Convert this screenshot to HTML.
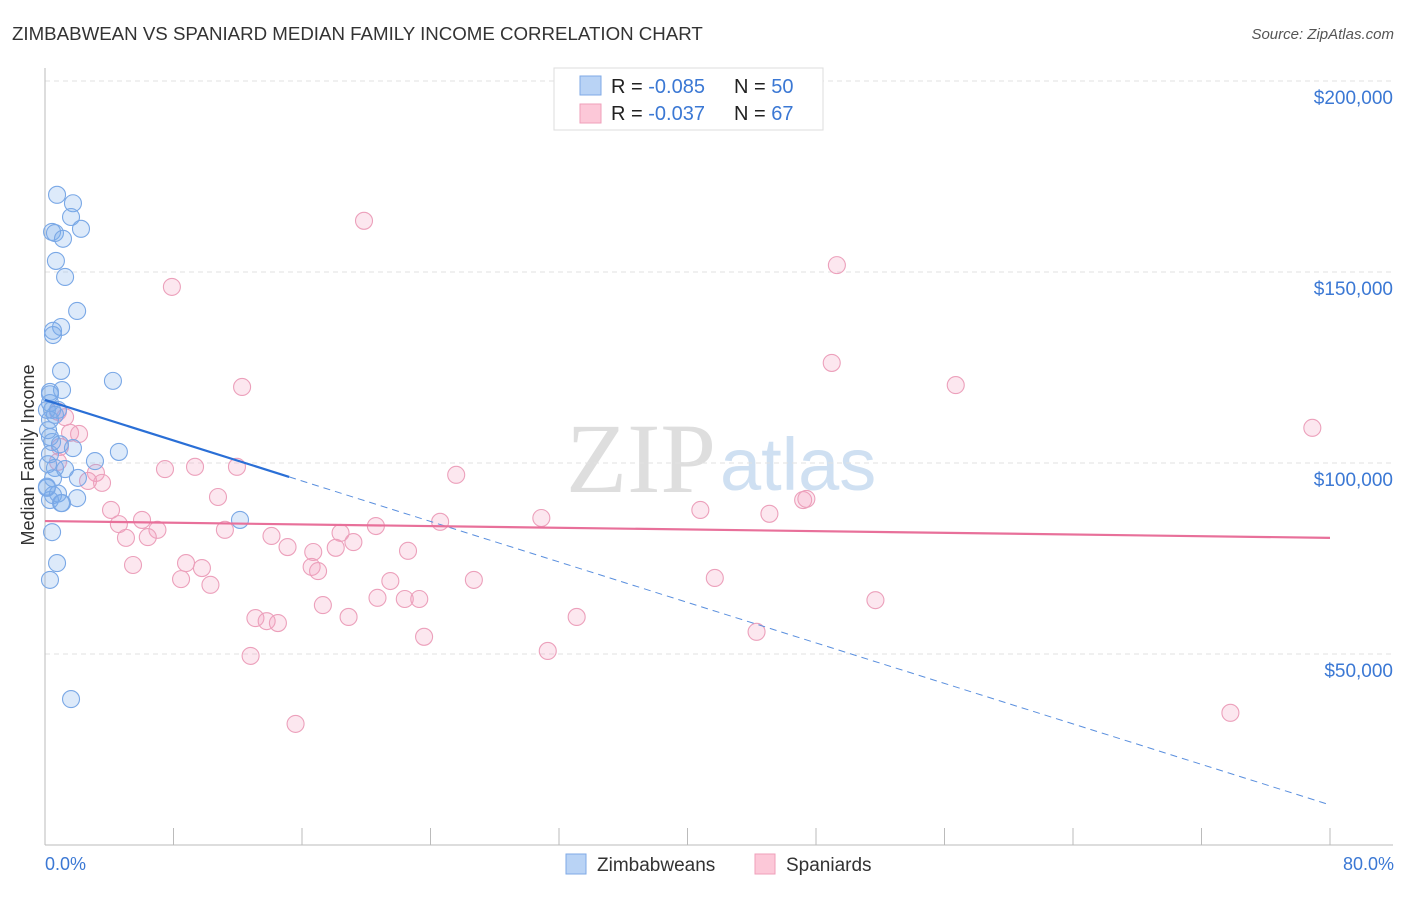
<!DOCTYPE html>
<html><head><meta charset="utf-8"><style>
body{margin:0;background:#fff;font-family:"Liberation Sans",sans-serif}
svg text{font-family:"Liberation Sans",sans-serif}
</style></head><body>
<svg id="c" width="1406" height="892" xmlns="http://www.w3.org/2000/svg">
<text x="12" y="40" font-size="18.7" fill="#333">ZIMBABWEAN VS SPANIARD MEDIAN FAMILY INCOME CORRELATION CHART</text>
<text x="1394" y="39" font-size="15" fill="#555" font-style="italic" text-anchor="end">Source: ZipAtlas.com</text>
<text x="716" y="492" font-size="100" fill="#dedede" text-anchor="end" style="font-family:'Liberation Serif',serif">ZIP</text>
<text x="720" y="490" font-size="74" fill="#cfe0f2">atlas</text>
<g id="grid"></g>
<g id="axes"></g>
<g id="pts"></g>
<g id="trend"></g>
<text transform="translate(34,455) rotate(-90)" font-size="18" fill="#333" text-anchor="middle">Median Family Income</text>
<text x="45" y="870" font-size="18" fill="#3b78d4">0.0%</text>
<text x="1394" y="870" font-size="18" fill="#3b78d4" text-anchor="end">80.0%</text>
<g>
<rect x="554" y="68" width="269" height="62" fill="#fff" stroke="#ddd"/>
<rect x="580" y="76" width="21" height="19" fill="#b9d3f5" stroke="#7faae6"/>
<rect x="580" y="104" width="21" height="19" fill="#fcc8d8" stroke="#ef9fba"/>
<text x="611" y="93" font-size="20" fill="#222">R = <tspan fill="#3b78d4">-0.085</tspan><tspan x="734">N = </tspan><tspan fill="#3b78d4">50</tspan></text>
<text x="611" y="120" font-size="20" fill="#222">R = <tspan fill="#3b78d4">-0.037</tspan><tspan x="734">N = </tspan><tspan fill="#3b78d4"> 67</tspan></text>
</g>
<g>
<rect x="566" y="854" width="20" height="20" fill="#b9d3f5" stroke="#7faae6"/>
<text x="597" y="871" font-size="19" fill="#333">Zimbabweans</text>
<rect x="755" y="854" width="20" height="20" fill="#fcc8d8" stroke="#ef9fba"/>
<text x="786" y="871" font-size="19" fill="#333">Spaniards</text>
</g>
</svg>
<script>
const yTicks=[50000,100000,150000,200000];
const yTickLabels=["$50,000","$100,000","$150,000","$200,000"];
const xTicks=[0,8,16,24,32,40,48,56,64,72,80];
const zimX=[0.75,1.74,1.62,0.44,0.62,1.12,2.24,0.68,1.25,2.0,1.0,0.5,0.5,4.23,1.0,1.06,0.31,0.31,0.44,0.81,0.31,0.31,0.44,1.74,4.6,3.11,0.62,2.05,0.12,0.5,0.31,2.0,1.0,12.14,0.44,0.75,0.31,1.62,0.19,0.62,0.93,0.31,1.25,0.19,0.81,0.5,0.12,1.06,0.31,0.12];
const zimY=[170200,168000,164400,160500,160200,158700,161300,152900,148700,139800,135600,134600,133500,121500,124100,119100,118600,115700,113900,113900,111300,106800,105500,103900,102900,100500,98700,96100,93500,91600,90300,90800,89500,85100,81900,73800,69400,38200,108600,112600,104900,102300,98400,99700,92000,96000,93800,89500,118000,113900];
const spaX=[19.86,49.3,7.9,48.98,56.7,12.27,78.9,0.81,1.25,1.56,2.12,0.93,0.81,3.17,7.47,9.34,11.95,25.6,3.55,2.68,10.77,47.2,47.4,4.11,40.8,45.1,30.9,6.04,4.6,24.6,20.6,7.0,11.2,5.04,6.4,14.1,18.4,19.2,15.1,16.7,18.1,22.6,5.48,8.78,9.77,16.6,17.0,8.47,10.3,21.5,26.7,41.7,20.7,22.4,23.3,51.7,17.3,13.1,13.8,14.5,18.9,33.1,44.3,23.6,31.3,12.8,15.6,73.8];
const spaY=[163400,151800,146100,126200,120400,119900,109200,113400,112000,107900,107600,104200,100300,97400,98400,99000,99000,96900,94800,95300,91100,90300,90600,87700,87700,86700,85600,85100,84000,84600,83500,82500,82500,80400,80600,80900,81700,79300,78000,76700,77800,77000,73300,73800,72500,72800,71700,69600,68100,69100,69400,69900,64700,64400,64400,64100,62800,59400,58600,58100,59700,59700,55800,54500,50800,49500,31700,34600];
const zimTrend=[116500,10500];
const spaTrend=[84800,80400];
const zimSolidEnd=15.2;
const NS="http://www.w3.org/2000/svg";
const X=v=>45+v/80*1285, Y=v=>845-v/50000*191;
function mk(t,a,p){const e=document.createElementNS(NS,t);for(const k in a)e.setAttribute(k,a[k]);document.getElementById(p).appendChild(e);return e;}
yTicks.forEach((v,i)=>{
 const l=mk('line',{x1:45,x2:1393,y1:Y(v),y2:Y(v),stroke:'#e2e2e2','stroke-dasharray':'5,4'},'grid');
 
 
 const t=mk('text',{x:1393,y:Y(v)+23,'font-size':19,fill:'#3b78d4','text-anchor':'end'},'grid');t.textContent=yTickLabels[i];
 
 
});
let a=mk('line',{x1:45,x2:1393,y1:845,y2:845,stroke:'#bbb'},'axes');


a=mk('line',{x1:45,x2:45,y1:68,y2:845,stroke:'#bbb'},'axes');


xTicks.forEach(v=>{const t=mk('line',{x1:X(v),x2:X(v),y1:828,y2:845,stroke:'#bbb'},'axes');
 
 });
spaX.forEach((v,i)=>{const c=mk('circle',{cx:X(v),cy:Y(spaY[i]),r:8.5,fill:'rgba(244,160,190,0.25)',stroke:'#eca0bb','stroke-width':1.1},'pts');
 
 });
zimX.forEach((v,i)=>{const c=mk('circle',{cx:X(v),cy:Y(zimY[i]),r:8.5,fill:'rgba(120,170,235,0.25)',stroke:'#7aa8e6','stroke-width':1.1},'pts');
 
 });
const zy=x=>zimTrend[0]+(zimTrend[1]-zimTrend[0])*x/80;
let l=mk('line',{x1:X(0),y1:Y(zy(0)),x2:X(zimSolidEnd),y2:Y(zy(zimSolidEnd)),stroke:'#2a6fd6','stroke-width':2.2},'trend');


l=mk('line',{x1:X(zimSolidEnd),y1:Y(zy(zimSolidEnd)),x2:X(80),y2:Y(zy(80)),stroke:'#5a8fde','stroke-width':1,'stroke-dasharray':'7,5'},'trend');


l=mk('line',{x1:X(0),y1:Y(spaTrend[0]),x2:X(80),y2:Y(spaTrend[1]),stroke:'#e8709a','stroke-width':2.2},'trend');


</script>
</body></html>
